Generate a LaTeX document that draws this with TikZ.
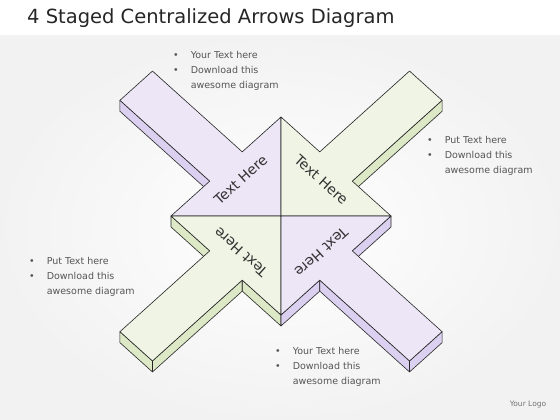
\documentclass[tikz,border=0pt]{standalone}
\usepackage{fontspec}
\setmainfont{DejaVu Sans}
\usetikzlibrary{calc}
\definecolor{purpletop}{HTML}{EDE6F7}
\definecolor{purpleside}{HTML}{DCD0F0}
\definecolor{greentop}{HTML}{EFF4E4}
\definecolor{greenside}{HTML}{DCE8C6}
\definecolor{notegray}{HTML}{555555}
\tikzset{
  face/.style={draw=black!85, line width=0.6pt, line join=round},
  quadtext/.style={inner sep=0pt, text=black!80, font=\fontsize{14}{16}\selectfont},
  note/.style={anchor=base west, inner sep=0pt, text=notegray, font=\fontsize{9.5}{15}\selectfont}
}
\newcommand{\notelist}[3]{\begin{tabular}[t]{@{}l@{\hspace{12pt}}l@{}}\textbullet & #1\\ \textbullet & #2\\ & #3\end{tabular}}
\begin{document}
\begin{tikzpicture}[x=1pt,y=1pt]
\fill[white] (0,0) rectangle (560,420);
\shade[inner color=white, outer color=black!5] (0,0) rectangle (560,384);
\node[anchor=base west, inner sep=0pt, font=\fontsize{19.5}{22}\selectfont, text=black!85] (title) at (27,396) {4 Staged Centralized Arrows Diagram};

\begin{scope}[shift={(281,204)}, yscale=0.9]
\foreach \a/\n in {135/ul, 45/ur, 225/ll, 315/lr}{
  \begin{scope}[rotate=\a]
  \coordinate (\n0) at (0,0);
  \coordinate (\n1) at (77.78,-77.78);
  \coordinate (\n2) at (77.78,-23);
  \coordinate (\n3) at (204.78,-23);
  \coordinate (\n4) at (204.78,23);
  \coordinate (\n5) at (77.78,23);
  \coordinate (\n6) at (77.78,77.78);
  \coordinate (\n7) at (57,0);
  \end{scope}
}
\end{scope}

\foreach \p/\q/\c in {ul4/ul5/purpleside, ur2/ur3/greenside, ll1/ll2/greenside, ll3/ll4/greenside, ll4/ll5/greenside, ll5/ll6/greenside, lr1/lr2/purpleside, lr2/lr3/purpleside, lr3/lr4/purpleside, lr5/lr6/purpleside}
  \draw[face, fill=\c] (\p) -- (\q) -- ($(\q)+(0,-11)$) -- ($(\p)+(0,-11)$) -- cycle;

\foreach \n/\c in {ul/purpletop, ur/greentop, ll/greentop, lr/purpletop}
  \draw[face, fill=\c] (\n0) -- (\n1) -- (\n2) -- (\n3) -- (\n4) -- (\n5) -- (\n6) -- cycle;

\node[quadtext, rotate=42] (ultext) at (ul7) {Text Here};
\node[quadtext, rotate=-42] (urtext) at (ur7) {Text Here};
\node[quadtext, rotate=138] (lltext) at (ll7) {Text Here};
\node[quadtext, rotate=222] (lrtext) at (lr7) {Text Here};

\node[note] (topnote) at (173,361) {\notelist{Your Text here}{Download this}{awesome diagram}};
\node[note] (rightnote) at (427,276) {\notelist{Put Text here}{Download this}{awesome diagram}};
\node[note] (leftnote) at (29,155) {\notelist{Put Text here}{Download this}{awesome diagram}};
\node[note] (bottomnote) at (275,65) {\notelist{Your Text here}{Download this}{awesome diagram}};

\node[font=\fontsize{7.5}{9}\selectfont, text=black!55] (logo) at (528,15) {Your Logo};
\end{tikzpicture}
\end{document}
